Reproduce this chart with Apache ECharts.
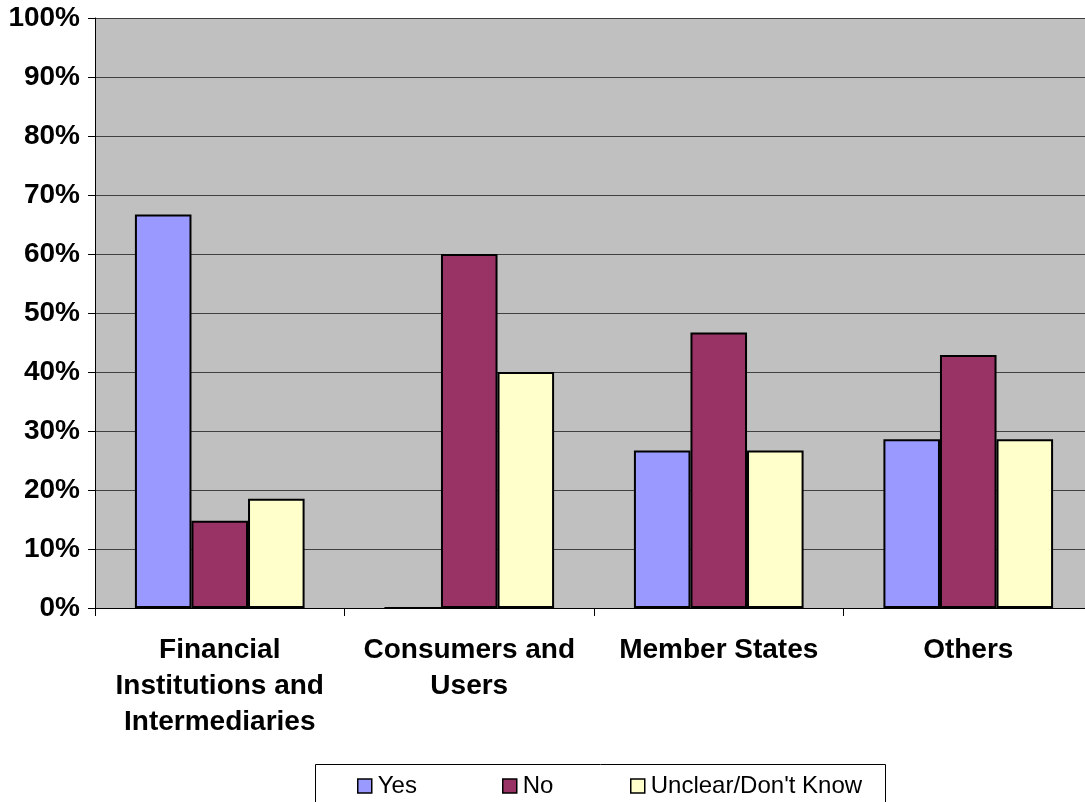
<!DOCTYPE html>
<html>
<head>
<meta charset="utf-8">
<script src="https://cdn.jsdelivr.net/npm/echarts@6/dist/echarts.min.js"></script>
<style>
  html, body { margin: 0; padding: 0; background: #ffffff; overflow: hidden; }
  /* plot area runs slightly past the right edge of the window */
  #chart { width: 1093px; height: 802px; }
</style>
</head>
<body>
<div id="chart"></div>
<script>
// Respondent groups along the x axis
const categories = [
  'Financial\nInstitutions and\nIntermediaries',
  'Consumers and\nUsers',
  'Member States',
  'Others'
];
// Share of answers per group, in percent
const yesValues = [66.7, 0, 26.7, 28.6];
const noValues = [14.8, 60, 46.7, 42.9];
const unclearValues = [18.5, 40, 26.7, 28.6];
const seriesNames = ['Yes', 'No', "Unclear/Don't Know"];

const colors = ['#9999FF', '#993366', '#FFFFCC'];
const font = 'Liberation Sans, Arial, sans-serif';

const chart = echarts.init(document.getElementById('chart'));

function barSeries(name, values, color) {
  return {
    name: name,
    type: 'bar',
    data: values,
    barGap: '0%',
    barCategoryGap: '32%',
    itemStyle: { color: color, borderColor: '#000000', borderWidth: 2 },
    emphasis: { disabled: true }
  };
}

function legendItem(name, left) {
  return {
    data: [name],
    left: left,
    top: 774,
    padding: 0,
    itemWidth: 14,
    itemHeight: 14,
    icon: 'rect',
    itemStyle: { borderColor: '#000000', borderWidth: 1.5 },
    textStyle: { fontFamily: font, fontSize: 24, color: '#000000', padding: [0, 0, 0, 1] },
    selectedMode: false
  };
}

chart.setOption({
  animation: false,
  backgroundColor: '#ffffff',
  grid: {
    left: 95,
    right: 0,
    top: 18,
    bottom: 194,
    show: true,
    backgroundColor: '#c0c0c0',
    borderWidth: 0
  },
  graphic: [{
    type: 'rect',
    shape: { x: 315.5, y: 764.5, width: 570, height: 50 },
    style: { fill: '#ffffff', stroke: '#000000', lineWidth: 1 },
    z: 0
  }],
  legend: [
    legendItem(seriesNames[0], 357),
    legendItem(seriesNames[1], 502),
    legendItem(seriesNames[2], 630)
  ],
  xAxis: {
    type: 'category',
    data: categories,
    axisLine: { lineStyle: { color: '#000000', width: 1 } },
    axisTick: { show: true, length: 8, lineStyle: { color: '#000000' } },
    axisLabel: {
      interval: 0,
      margin: 24,
      fontFamily: font,
      fontSize: 28,
      fontWeight: 'bold',
      color: '#000000',
      lineHeight: 36
    }
  },
  yAxis: {
    type: 'value',
    min: 0,
    max: 100,
    interval: 10,
    axisLine: { show: true, lineStyle: { color: '#000000', width: 1 } },
    axisTick: { show: true, length: 7, lineStyle: { color: '#000000' } },
    axisLabel: {
      formatter: '{value}%',
      margin: 15,
      fontFamily: font,
      fontSize: 28,
      fontWeight: 'bold',
      color: '#000000'
    },
    splitLine: { show: true, lineStyle: { color: '#404040', width: 1 } }
  },
  series: [
    barSeries(seriesNames[0], yesValues, colors[0]),
    barSeries(seriesNames[1], noValues, colors[1]),
    barSeries(seriesNames[2], unclearValues, colors[2])
  ]
});
</script>
</body>
</html>
